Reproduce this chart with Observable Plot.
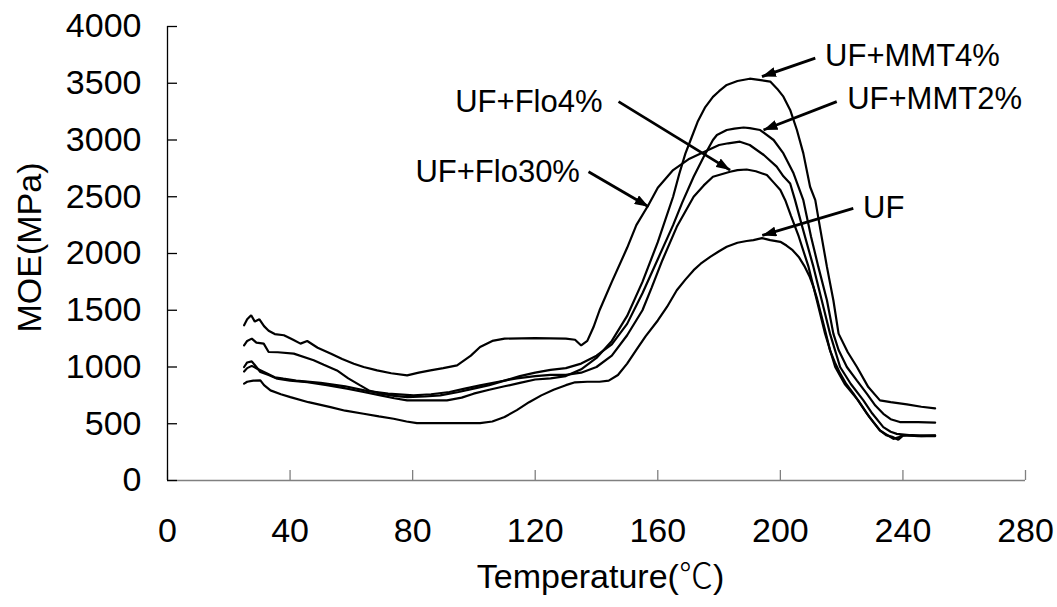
<!DOCTYPE html>
<html>
<head>
<meta charset="utf-8">
<script src="https://cdn.jsdelivr.net/npm/d3@7"></script>
<script src="https://cdn.jsdelivr.net/npm/@observablehq/plot@0.6"></script>
<style>
  html, body { margin: 0; padding: 0; background: #fff; }
  #chart svg { display: block; }
</style>
</head>
<body>
<div id="chart"></div>
<script>
// ---- data: [temperature (°C), MOE (MPa)] ----
const UF = [[25,853],[26,870],[28,880],[30.3,882],[31.5,840],[33.6,794],[37,760],[40.1,735],[46,690],[53.2,647],[58,615],[64,588],[69,565],[73.8,544],[78,520],[81.4,506],[90,506],[102,506],[106,520],[110,560],[114,620],[118,690],[122,750],[126,800],[130,840],[133,865],[137,870],[141,870],[144,880],[147,930],[150,1030],[153,1150],[156,1270],[160,1410],[163,1529],[166.2,1676],[169,1770],[171.7,1853],[174,1910],[177.1,1970],[180,2020],[182.5,2059],[186,2095],[189,2110],[191.2,2118],[194,2135],[196.7,2118],[200,2103],[202,2070],[204,2029],[206,1970],[208,1882],[209.5,1800],[210.8,1706],[212,1600],[213.5,1441],[215,1280],[216.2,1147],[217.8,1040],[219.5,944],[221.5,850],[223.8,767],[226,680],[228.2,591],[230.5,510],[232.5,441],[234.5,400],[236.8,382],[238.5,360],[240,395],[243,400],[246,390],[250.5,390]];

const MMT2 = [[25,1191],[26,1230],[27.5,1250],[29,1215],[31.4,1206],[33,1132],[36,1130],[41.2,1118],[47.7,1059],[51,1020],[55.3,970],[59,900],[62.9,838],[66,790],[69.5,765],[74,745],[78.2,735],[84,740],[89,750],[95,780],[99.9,809],[105,840],[110,880],[115,920],[120,950],[125,975],[130,990],[135,1030],[140,1100],[145,1200],[150,1380],[155,1650],[160,1950],[165,2250],[168,2450],[171.7,2676],[175,2853],[178,3000],[179.3,3044],[182.5,3088],[185,3100],[188,3110],[190,3105],[193.4,3088],[197.8,3000],[201,2882],[204.3,2706],[207.5,2470],[210,2150],[212.4,1882],[215.2,1588],[217.3,1294],[219,1150],[221.7,1000],[225,880],[228.2,765],[231,660],[233.6,588],[236,540],[239,515],[245,515],[250.5,510]];

const MMT4 = [[25,1000],[26,1040],[27.5,1050],[29,1000],[30.3,956],[33,930],[35.8,897],[40,880],[45.6,867],[52,840],[58.6,809],[64,780],[69.5,750],[74,725],[78.2,706],[85,706],[91.2,706],[96,730],[99.9,765],[105,800],[110,830],[115,860],[120,890],[125,900],[130,920],[135,980],[140,1080],[145,1230],[150,1450],[155,1750],[160,2100],[165,2500],[167,2700],[169,2880],[171,3020],[173,3160],[175.5,3290],[178,3380],[180,3430],[182.5,3485],[186,3520],[190,3540],[193,3530],[196.7,3515],[199,3450],[201,3382],[203.2,3265],[205.4,3088],[207.5,2882],[209.7,2588],[211.4,2470],[212.9,2235],[215.2,1882],[217.3,1588],[219,1294],[222,1130],[225,1000],[228.7,823],[232.5,706],[236,690],[241.3,670],[246,650],[250.5,635]];

const FLO4 = [[25,960],[26,990],[27.5,1010],[29.3,985],[32,950],[35,910],[37.8,897],[42,880],[50,860],[58,830],[65,790],[72,765],[80.3,750],[86,760],[92,780],[97,810],[102,838],[108,870],[114,900],[120,920],[125,930],[130,930],[135,950],[140,1000],[145,1100],[150,1280],[155,1500],[158,1700],[161.5,1941],[166.2,2235],[171.7,2500],[175,2600],[178,2676],[183.6,2720],[186,2735],[189,2740],[192,2725],[195.6,2691],[198,2620],[200,2559],[201.6,2470],[203.5,2330],[206,2150],[209.2,1882],[211.9,1588],[214.6,1294],[217.9,1000],[221,850],[225.4,706],[229,560],[232.5,441],[236.9,367],[238.5,380],[240,400],[245,390],[250.5,395]];

const FLO30 = [[25,1368],[26,1420],[27.3,1456],[28.5,1400],[30,1420],[31.5,1360],[33,1320],[35,1290],[38,1280],[41,1240],[43.4,1206],[45.6,1229],[49,1170],[53.2,1118],[57,1070],[60.8,1029],[64,1000],[68.4,970],[73,945],[78.2,926],[82,950],[85.8,970],[90,990],[94.5,1015],[99,1100],[102,1176],[106,1230],[110,1250],[120,1255],[130,1250],[133,1240],[135,1190],[137,1230],[139,1350],[141,1500],[145,1750],[150,2050],[153,2250],[157,2430],[160,2580],[165,2735],[170,2830],[174,2882],[180,2956],[183,2971],[186.8,2985],[190,2956],[194.6,2868],[198.8,2765],[201,2680],[203.2,2617],[204.8,2470],[207,2250],[210.8,1882],[213.5,1588],[216.2,1294],[219.5,1000],[223,850],[227.1,706],[230,590],[233.6,470],[236,430],[238,411],[242,400],[246,398],[250.5,397]];

const seriesNames = ["UF", "UF+MMT2%", "UF+MMT4%", "UF+Flo4%", "UF+Flo30%"];
const seriesValues = [UF, MMT2, MMT4, FLO4, FLO30];

const xTicks = [0, 40, 80, 120, 160, 200, 240, 280];
const yTicks = [0, 500, 1000, 1500, 2000, 2500, 3000, 3500, 4000];

// annotation labels (anchor in data units: °C, MPa)
const labelText = ["UF+MMT4%", "UF+MMT2%", "UF+Flo4%", "UF+Flo30%", "UF"];
const labelT    = [214.6, 221.8, 93.9, 80.9, 227.0];
const labelMOE  = [3735, 3362, 3337, 2720, 2400];
// arrows: from label to curve
const arrowT1   = [211.4, 218.4, 147.2, 137.4, 223.8];
const arrowMOE1 = [3721, 3338, 3338, 2720, 2397];
const arrowT2   = [194.0, 194.5, 183.6, 157.0, 194.1];
const arrowMOE2 = [3559, 3088, 2735, 2412, 2159];

const xTitle = "Temperature(℃)";
const yTitle = "MOE(MPa)";

// ---- build table ----
const rows = [];
seriesNames.forEach((name, i) => {
  for (const [t, v] of seriesValues[i]) rows.push({series: name, T: t, MOE: v});
});
const idx = d3.range(labelText.length);

const NS = "http://www.w3.org/2000/svg";
function filledArrow(color, context) {
  const doc = (context && context.document) || document;
  const m = doc.createElementNS(NS, "marker");
  m.setAttribute("viewBox", "-14 -5 14 10");
  m.setAttribute("markerWidth", 14);
  m.setAttribute("markerHeight", 10);
  m.setAttribute("markerUnits", "userSpaceOnUse");
  m.setAttribute("orient", "auto");
  m.setAttribute("refX", 0);
  m.setAttribute("refY", 0);
  const p = doc.createElementNS(NS, "path");
  p.setAttribute("d", "M-14,-5L0,0L-14,5Z");
  p.setAttribute("fill", color === "currentColor" ? "black" : color);
  p.setAttribute("stroke", "none");
  m.appendChild(p);
  return m;
}

const W = 1057, H = 607, ML = 167, MR = 32, MT = 26, MB = 127;
const frameW = W - ML - MR, frameH = H - MT - MB;
const font = '"Liberation Sans", Arial, "Noto Sans CJK SC", sans-serif';

function build(marker) {
  return Plot.plot({
    width: W, height: H,
    marginLeft: ML, marginRight: MR, marginTop: MT, marginBottom: MB,
    x: {domain: [0, 280]},
    y: {domain: [0, 4000]},
    style: {fontFamily: font, fontSize: "34px", color: "black", background: "white", overflow: "visible"},
    marks: [
      Plot.ruleY([0], {stroke: "#808080", strokeWidth: 1.6}),
      Plot.gridX(xTicks, {stroke: "#808080", strokeOpacity: 1, strokeWidth: 1.3, insetTop: frameH - 10}),
      Plot.ruleX([0], {stroke: "black", strokeWidth: 1.3}),
      Plot.gridY(yTicks, {stroke: "black", strokeOpacity: 1, strokeWidth: 1.3, insetRight: frameW - 10}),
      Plot.axisY(yTicks, {tickSize: 0, tickPadding: 26, tickFormat: d3.format("d"), label: null, fontSize: 34}),
      Plot.axisX(xTicks, {tickSize: 0, tickPadding: 37, tickFormat: d3.format("d"), label: null, fontSize: 34}),
      Plot.text([xTitle], {text: d => d, frameAnchor: "bottom", textAnchor: "middle", lineAnchor: "middle", dx: 4, dy: 97, fontSize: 34}),
      Plot.text([yTitle], {text: d => d, frameAnchor: "left", textAnchor: "middle", lineAnchor: "middle", rotate: -90, dx: -137, dy: -6, fontSize: 34}),
      Plot.line(rows, {x: "T", y: "MOE", z: "series", stroke: "black", strokeWidth: 2.2, strokeLinejoin: "miter"}),
      Plot.link(idx, {
        x1: i => arrowT1[i], y1: i => arrowMOE1[i],
        x2: i => arrowT2[i], y2: i => arrowMOE2[i],
        stroke: "black", strokeWidth: 2.8, markerEnd: marker
      }),
      Plot.text(idx, {x: i => labelT[i], y: i => labelMOE[i], text: i => labelText[i], textAnchor: "start", fontSize: 31})
    ]
  });
}

let chart;
try { chart = build(filledArrow); } catch (e) { chart = build("arrow"); }
document.getElementById("chart").appendChild(chart);

// render the ℃ sign with a CJK font, as in the original
d3.select(chart).selectAll("text").each(function () {
  const t = this.textContent;
  if (t === xTitle) {
    const sel = d3.select(this);
    const tspan = this.querySelector("tspan");
    const target = tspan ? d3.select(tspan) : sel;
    target.text(null);
    target.append("tspan").text("Temperature(");
    target.append("tspan").attr("font-family", '"Noto Sans CJK SC", "Noto Sans CJK JP", sans-serif').attr("font-weight", 300).text("℃");
    target.append("tspan").text(")");
  }
});
</script>
</body>
</html>
